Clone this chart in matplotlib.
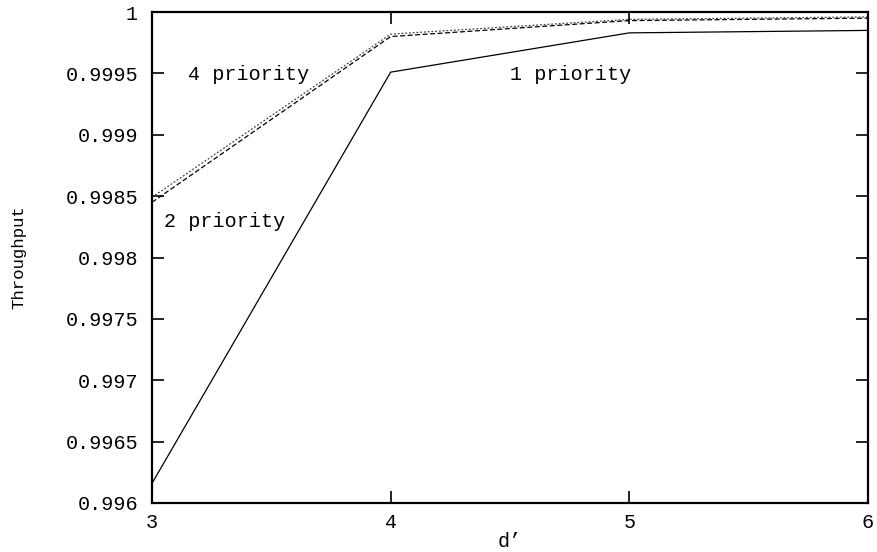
import matplotlib
matplotlib.use('Agg')
import matplotlib.pyplot as plt

# 数据
d_vals = [3, 4, 5, 6]
prio1 = [0.99616, 0.99951, 0.99983, 0.99985]
prio2 = [0.99845, 0.99980, 0.99993, 0.99995]
prio4 = [0.99849, 0.99982, 0.99994, 0.99996]

yticks = [0.996, 0.9965, 0.997, 0.9975, 0.998, 0.9985, 0.999, 0.9995, 1.0]
ytick_labels = ['0.996', '0.9965', '0.997', '0.9975', '0.998', '0.9985', '0.999', '0.9995', '1']
xticks = [3, 4, 5, 6]

plt.rcParams['font.family'] = ['Liberation Mono', 'DejaVu Sans Mono']
fs = 14.5

fig = plt.figure(figsize=(8.77, 5.52), dpi=100)
ax = fig.add_axes([152 / 877, 49 / 552, 716 / 877, 491 / 552])

ax.plot(d_vals, prio1, color='black', lw=0.9, ls='-')
ax.plot(d_vals, prio2, color='black', lw=0.9, ls=(0, (4, 2)))
ax.plot(d_vals, prio4, color='#444444', lw=0.9, ls=(0, (1.5, 1.5)))

# 曲线标注
ax.text(3.151, 0.99949, '4 priority', fontsize=fs, va='center', ha='left')
ax.text(4.500, 0.99949, '1 priority', fontsize=fs, va='center', ha='left')
ax.text(3.050, 0.99829, '2 priority', fontsize=fs, va='center', ha='left')

ax.set_xlim(3, 6)
ax.set_ylim(0.996, 1.0)
ax.set_xticks(xticks)
ax.set_xticklabels([str(x) for x in xticks], fontsize=fs)
ax.set_yticks(yticks)
ax.set_yticklabels(ytick_labels, fontsize=fs)
ax.tick_params(direction='in', length=8.5, width=1.2, top=True, right=True)
ax.tick_params(axis='y', pad=10)
ax.tick_params(axis='x', pad=7)
for s in ax.spines.values():
    s.set_linewidth(1.6)

ax.set_xlabel('d’', fontsize=fs, labelpad=0)
ax.set_ylabel('Throughput', fontsize=12.5, labelpad=28)

plt.savefig('out.png', dpi=100)
